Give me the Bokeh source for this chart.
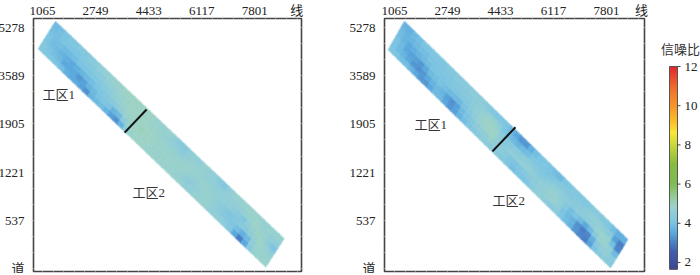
import numpy as np
from bokeh.embed import file_html
from bokeh.layouts import row
from bokeh.models import (ColumnDataSource, FixedTicker, LinearAxis, LinearColorMapper,
                          Range1d)
from bokeh.plotting import figure
from bokeh.resources import INLINE
from bokeh.core.properties import value

# ---------- data ----------
line_ticks = [1065, 2749, 4433, 6117, 7801]
trace_labels = ["道", "537", "1221", "1905", "3589", "5278"]
cbar_ticks = [2, 4, 6, 8, 10, 12]
cbar_levels = [1.65 + 0.05 * k for k in range(208)]
zone_names = ["工区1", "工区2"]

# strip corners (line, trace rank): start-SW, start-NE, end-SW, end-NE
corners_a = [(938, 4.56), (1478, 5.12), (8150, 0.04), (8721, 0.62)]
corners_b = [(874, 4.54), (1383, 5.12), (7927, 0.02), (8467, 0.60)]
divider_a = [(3670, 2.82), (4369, 3.30)]
divider_b = [(4177, 2.43), (4908, 2.93)]
zone_x_a, zone_y_a = [1065, 3924], [3.61, 1.58]
zone_x_b, zone_y_b = [1700, 4178], [2.99, 1.41]

# signal-to-noise along the strip (rows) and across it (SW side to NE side)
snr_a = [
    [4.2,4.2,4.0,4.0,3.9,3.8],[4.1,4.0,3.9,3.9,3.9,3.9],[4.1,3.9,3.8,3.9,4.0,4.0],
    [4.0,3.8,3.7,3.8,4.0,4.1],[3.9,3.5,3.6,3.8,4.0,4.1],[3.6,3.5,3.5,3.9,4.0,4.2],
    [3.5,3.5,3.6,4.0,4.1,4.2],[3.5,3.3,3.7,4.0,4.2,4.3],[3.4,3.4,3.8,4.1,4.2,4.4],
    [3.2,3.7,3.9,4.1,4.3,4.5],[3.7,3.8,4.0,4.2,4.4,4.6],[3.8,4.0,4.1,4.3,4.5,4.7],
    [3.9,4.1,4.2,4.4,4.6,4.8],[3.7,4.0,4.3,4.6,4.7,4.8],[3.4,3.7,4.4,4.7,4.8,4.9],
    [3.2,3.8,4.6,4.8,4.9,4.9],[3.7,4.4,4.8,4.9,4.9,4.9],[4.4,4.7,4.9,4.9,4.9,4.9],
    [4.8,4.9,4.9,4.9,4.9,4.9],[4.9,4.9,5.0,4.9,4.9,4.9],[4.9,4.9,4.9,4.9,4.8,4.8],
    [4.8,4.9,4.9,4.9,4.8,4.8],[4.8,4.8,4.8,4.8,4.7,4.7],[4.8,4.8,4.8,4.8,4.6,4.7],
    [4.8,4.8,4.8,4.7,4.6,4.5],[4.8,4.8,4.8,4.7,4.5,4.3],[4.8,4.8,4.8,4.7,4.4,4.3],
    [4.7,4.7,4.8,4.7,4.6,4.5],[4.7,4.6,4.7,4.8,4.7,4.6],[4.6,4.4,4.6,4.7,4.7,4.6],
    [4.6,4.5,4.6,4.7,4.7,4.7],[4.7,4.6,4.7,4.7,4.6,4.6],[4.7,4.7,4.7,4.7,4.6,4.5],
    [4.7,4.7,4.7,4.6,4.5,4.3],[4.6,4.6,4.6,4.6,4.5,4.2],[4.6,4.4,4.4,4.6,4.6,4.5],
    [4.5,4.3,4.2,4.5,4.6,4.7],[4.4,4.2,4.1,4.4,4.6,4.7],[4.2,4.1,4.2,4.3,4.6,4.8],
    [3.5,3.9,4.3,4.1,4.7,4.8],[3.0,3.6,4.3,4.5,4.8,4.8],[3.5,3.8,4.5,4.7,4.9,4.8],
    [4.3,4.5,4.7,4.9,4.8,4.7],[4.7,4.8,4.9,4.8,4.7,4.7],[4.8,4.8,4.7,4.4,4.6,4.7],
    [4.8,4.7,4.5,4.0,4.5,4.7],
]
snr_b = [
    [4.1,4.0,4.0,3.9,3.8,3.7],[4.0,3.8,3.8,3.7,3.7,3.6],[3.9,3.7,3.5,3.5,3.7,3.8],
    [3.9,3.5,3.4,3.6,3.8,3.9],[3.7,3.3,3.4,3.7,3.9,4.0],[3.5,3.2,3.3,3.8,3.9,4.0],
    [3.3,3.3,3.5,3.9,4.0,4.1],[3.3,3.5,3.8,4.0,4.0,4.1],[3.5,3.7,3.9,4.0,4.1,4.1],
    [3.8,3.8,4.0,4.0,4.1,4.2],[3.8,3.7,3.9,4.1,4.1,4.2],[3.5,3.4,3.8,4.1,4.2,4.3],
    [3.3,3.2,3.8,4.1,4.2,4.3],[3.4,3.4,3.8,4.2,4.3,4.3],[3.7,3.8,4.0,4.2,4.3,4.4],
    [3.9,4.0,4.2,4.4,4.4,4.4],[4.1,4.2,4.4,4.6,4.5,4.4],[4.2,4.4,4.7,4.7,4.6,4.3],
    [4.3,4.5,4.8,4.9,4.7,4.2],[4.4,4.6,4.9,4.9,4.7,4.1],[4.4,4.7,4.9,4.8,4.5,4.1],
    [4.4,4.5,4.6,4.4,4.1,4.0],[4.3,4.4,4.3,4.2,3.9,3.8],[4.2,4.3,4.4,4.2,3.8,3.5],
    [4.1,4.1,4.5,4.3,3.7,3.3],[3.9,4.0,4.5,4.3,3.8,3.3],[4.0,4.1,4.6,4.4,3.9,3.6],
    [4.0,4.2,4.6,4.4,4.1,3.9],[4.1,4.3,4.5,4.3,4.1,4.0],[4.3,4.4,4.4,4.2,4.1,4.1],
    [4.5,4.5,4.5,4.2,4.0,4.0],[4.5,4.6,4.6,4.4,4.1,3.9],[4.4,4.7,4.7,4.5,4.2,3.8],
    [4.3,4.7,4.7,4.5,4.3,4.0],[4.4,4.5,4.5,4.4,4.2,4.1],[4.1,4.0,4.2,4.4,4.2,4.2],
    [3.9,3.8,3.9,4.3,4.3,4.1],[3.7,3.7,4.0,4.4,4.3,4.1],[3.3,3.2,3.8,4.4,4.4,4.2],
    [3.1,3.0,3.5,4.4,4.5,4.3],[3.0,3.1,3.8,4.5,4.6,4.3],[3.4,3.6,4.3,4.7,4.5,4.2],
    [4.0,4.3,4.7,4.8,4.4,4.1],[4.3,4.5,4.8,4.7,4.3,3.9],[4.4,4.6,4.5,3.9,3.4,3.6],
    [4.3,4.3,3.8,3.1,3.0,3.6],
]

palette_stops = [(1.65,"#3b4795"),(2.5,"#3f5fae"),(3.0,"#4a80c6"),(3.5,"#5cabde"),(4.0,"#7cc4e2"),
                 (4.5,"#90cdd8"),(4.9,"#9dd3c6"),(5.4,"#93c98e"),(6.0,"#7dbb55"),(7.0,"#86bb3f"),
                 (8.0,"#cdd83a"),(8.6,"#fbe737"),(9.3,"#fbb829"),(10.0,"#f6952a"),(11.0,"#ee6a2b"),
                 (12.0,"#e2262d")]

TXT = "Liberation Serif, Noto Sans CJK SC"
INK = "#222222"
TICK = "#d9d2ce"
Y_RANGE = (-0.062, 5.187)
TOP = 20        # top border of every panel, pushed partly off the page by the page style below
SHIFT_X, SHIFT_Y = 5, 2
PAGE_H = 275 + SHIFT_Y


def build_palette():
    vs = [s[0] for s in palette_stops]
    rgb = np.array([[int(s[1][i:i + 2], 16) for i in (1, 3, 5)] for s in palette_stops], float)
    out = []
    for v in np.linspace(vs[0], vs[-1], 256):
        c = [np.interp(v, vs, rgb[:, k]) for k in range(3)]
        out.append("#%02x%02x%02x" % tuple(int(round(q)) for q in c))
    return out


mapper = LinearColorMapper(palette=build_palette(), low=palette_stops[0][0], high=palette_stops[-1][0])


def panel(width, bl, br, xr, corners, snr, divider, zx, zy, axis_end):
    p = figure(width=width, height=PAGE_H, output_backend="svg", toolbar_location=None,
               x_range=Range1d(*xr), y_range=Range1d(*Y_RANGE), x_axis_location=None, y_axis_location=None,
               min_border_left=bl, min_border_right=br, min_border_top=TOP, min_border_bottom=4,
               outline_line_color="#444444", outline_line_width=1.6, background_fill_color="white")
    p.grid.visible = False

    xt = line_ticks + [axis_end]
    xminor = [line_ticks[0] + 168.4 * 2 * k for k in range(-1, 25)]
    yminor = [k / 3 for k in range(0, 16)]
    overrides_x = {t: str(t) for t in line_ticks}
    overrides_x[axis_end] = "线"
    overrides_y = {k: s for k, s in enumerate(trace_labels)}

    # major ticks are kept at zero length so the label height alone sets the border; minor ticks show the marks
    for loc in ("above", "below"):
        ax = LinearAxis(ticker=FixedTicker(ticks=line_ticks, minor_ticks=xminor), axis_line_color=None,
                        major_tick_line_color=None, minor_tick_line_color=TICK,
                        major_tick_out=0, major_tick_in=0, minor_tick_out=2, minor_tick_in=0)
        if loc == "above":
            ax.ticker = FixedTicker(ticks=xt, minor_ticks=xminor)
            ax.major_label_overrides = overrides_x
            ax.major_label_text_font = TXT
            ax.major_label_text_font_size = "13px"
            ax.major_label_text_color = INK
            ax.major_label_standoff = -1
        else:
            ax.major_label_overrides = {t: "" for t in line_ticks}
            ax.major_label_standoff = 0
        p.add_layout(ax, loc)
    for loc in ("left", "right"):
        ax = LinearAxis(ticker=FixedTicker(ticks=list(overrides_y), minor_ticks=yminor), axis_line_color=None,
                        major_tick_line_color=None, minor_tick_line_color=TICK,
                        major_tick_out=0, major_tick_in=0, minor_tick_out=2, minor_tick_in=0)
        if loc == "left":
            ax.major_label_overrides = overrides_y
            ax.major_label_text_font = TXT
            ax.major_label_text_font_size = "13px"
            ax.major_label_text_color = INK
            ax.major_label_standoff = 7
        else:
            ax.major_label_overrides = {k: "" for k in overrides_y}
            ax.major_label_standoff = 0
        p.add_layout(ax, loc)

    # strip cells, placed by bilinear position inside the strip's corners
    a = np.array(corners, float)
    vals = np.array(snr, float)
    n, m = vals.shape

    def pos(u, v):
        return (1 - u) * (1 - v) * a[0] + (1 - u) * v * a[1] + u * (1 - v) * a[2] + u * v * a[3]

    xs, ys, cs = [], [], []
    for i in range(n):
        for j in range(m):
            q = [pos(i / n, j / m), pos((i + 1) / n, j / m), pos((i + 1) / n, (j + 1) / m), pos(i / n, (j + 1) / m)]
            xs.append([c[0] for c in q])
            ys.append([c[1] for c in q])
            cs.append(vals[i, j])
    src = ColumnDataSource(dict(xs=xs, ys=ys, snr=cs))
    cmap = {"field": "snr", "transform": mapper}
    p.patches("xs", "ys", source=src, fill_color=cmap, line_color=cmap, line_width=2.2, line_alpha=0.5)

    p.line([d[0] for d in divider], [d[1] for d in divider], line_color="#111111", line_width=2)
    p.text(zx, zy, text=zone_names, text_font=value(TXT), text_font_size="13px", text_color="#333333",
           text_baseline="middle", text_align="left")
    return p


p1 = panel(340 + SHIFT_X, 33 + SHIFT_X, 39, (779, 9284), corners_a, snr_a, divider_a, zone_x_a, zone_y_a, 9134)
p2 = panel(320, 44, 16, (747, 9008), corners_b, snr_b, divider_b, zone_x_b, zone_y_b, 8912)

# colour bar panel: a pixel-wide x scale, the value scale set so the bar sits where it does in the original
BAR_L, BAR_R = 9, 17
p3 = figure(width=40, height=PAGE_H, output_backend="svg", toolbar_location=None,
            x_range=Range1d(0, 40), y_range=Range1d(1.54, 14.45),
            x_axis_location=None, y_axis_location=None,
            min_border_left=0, min_border_right=0, min_border_top=TOP, min_border_bottom=4,
            outline_line_color=None)
p3.grid.visible = False
p3.image(image=[np.array(cbar_levels).reshape(-1, 1)], x=BAR_L, y=cbar_levels[0], dw=BAR_R - BAR_L,
         dh=cbar_levels[-1] - cbar_levels[0], color_mapper=mapper)
p3.quad(left=[BAR_L], right=[BAR_R], bottom=[cbar_levels[0]], top=[cbar_levels[-1]], fill_color=None,
        line_color="#555555", line_width=1)
p3.segment(x0=[BAR_R] * len(cbar_ticks), x1=[BAR_R + 3] * len(cbar_ticks), y0=cbar_ticks, y1=cbar_ticks,
           line_color="#444444", line_width=1)
p3.text([BAR_R + 7] * len(cbar_ticks), cbar_ticks, text=[str(t) for t in cbar_ticks], text_font=value(TXT),
        text_font_size="13px", text_color=INK, text_baseline="middle", text_align="left")
p3.text([20], [12.87], text=["信噪比"], text_font=value(TXT), text_font_size="13px", text_color="#333333",
        text_baseline="middle", text_align="center")

page = row(p1, p2, p3, spacing=0)
html = file_html(page, INLINE)
style = "<style>html,body{margin:0;padding:0;overflow:hidden}body{position:absolute;left:-%dpx;top:-%dpx}</style>" % (SHIFT_X, SHIFT_Y)
html = html.replace("<head>", "<head>" + style, 1)
open("out.html", "w").write(html)
